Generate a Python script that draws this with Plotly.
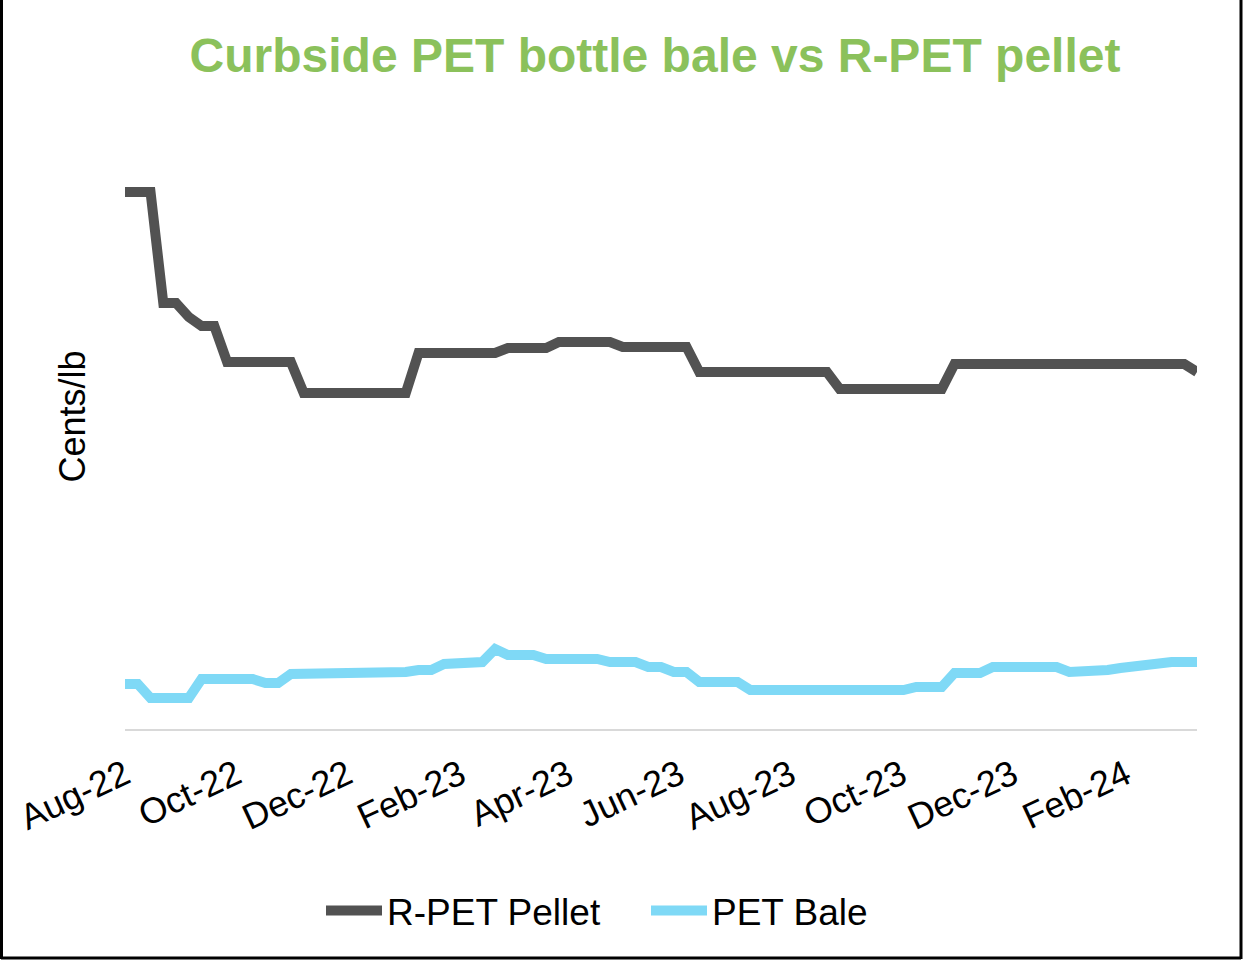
import pandas as pd
import plotly.graph_objects as go

start_date = "2022-08-01"

rpet_pellet = [
    214.8, 214.8, 214.8, 170.4, 170.4, 164.8, 161.2, 161.2,
    146.8, 146.8, 146.8, 146.8, 146.8, 146.8,
    134.4, 134.4, 134.4, 134.4, 134.4, 134.4, 134.4, 134.4, 134.4,
    150.4, 150.4, 150.4, 150.4, 150.4, 150.4, 150.4,
    152.4, 152.4, 152.4, 152.4,
    154.8, 154.8, 154.8, 154.8, 154.8,
    152.8, 152.8, 152.8, 152.8, 152.8, 152.8,
    142.8, 142.8, 142.8, 142.8, 142.8, 142.8, 142.8, 142.8, 142.8, 142.8, 142.8,
    136.0, 136.0, 136.0, 136.0, 136.0, 136.0, 136.0, 136.0, 136.0,
    146.0, 146.0, 146.0, 146.0, 146.0, 146.0, 146.0, 146.0, 146.0, 146.0,
    146.0, 146.0, 146.0, 146.0, 146.0, 146.0, 146.0, 146.0, 146.0,
    142.8,
]

pet_bale = [
    18.0, 18.0, 12.4, 12.4, 12.4, 12.4,
    20.0, 20.0, 20.0, 20.0, 20.0,
    18.4, 18.4, 22.0, 22.0,
    22.8, 22.8, 22.8, 22.8, 22.8, 22.8, 22.8, 22.8,
    23.6, 23.6, 26.0, 26.0, 26.8, 26.8, 32.0,
    29.6, 29.6, 29.6,
    28.0, 28.0, 28.0, 28.0, 28.0,
    26.8, 26.8, 26.8, 24.8, 24.8, 22.8, 22.8,
    18.8, 18.8, 18.8, 18.8,
    15.6, 15.6, 15.6, 15.6, 15.6, 15.6, 15.6, 15.6, 15.6, 15.6, 15.6, 15.6, 15.6,
    16.8, 16.8, 16.8,
    22.4, 22.4, 22.4,
    24.8, 24.8, 24.8, 24.8, 24.8, 24.8,
    22.8, 22.8, 22.8, 23.6, 24.4, 25.2, 25.2, 26.0,
    26.8, 26.8, 26.8,
]

dates = pd.date_range(start_date, periods=len(rpet_pellet), freq="7D")

series_names = ["R-PET Pellet", "PET Bale"]
series_colors = ["#525252", "#7FD9F6"]

fig = go.Figure()
for name, vals, col in zip(series_names, [rpet_pellet, pet_bale], series_colors):
    fig.add_trace(go.Scatter(
        x=dates, y=vals, name=name, mode="lines",
        line=dict(color=col, width=10),
    ))

font_family = "Liberation Sans, Arial, sans-serif"

fig.update_layout(
    width=1244, height=960,
    margin=dict(l=125, r=47, t=104, b=231, pad=0),
    paper_bgcolor="white", plot_bgcolor="white",
    font=dict(family=font_family, color="black", size=36),
    title=dict(
        text="<b>Curbside PET bottle bale vs R-PET pellet</b>",
        font=dict(size=48, color="#8BC15B", family=font_family),
        x=655 / 1244, xanchor="center", xref="container",
        y=1 - 55 / 960, yanchor="middle", yref="container",
    ),
    xaxis=dict(
        range=[dates[0], dates[-1]],
        tick0="2022-08-01", dtick="M2", tickformat="%b-%y",
        tickangle=-25, ticks="", showgrid=False, zeroline=False,
        showline=True, linecolor="#D9D9D9", linewidth=2,
        tickfont=dict(size=36), ticklabelstandoff=9,
    ),
    yaxis=dict(
        range=[0, 250], showticklabels=False, ticks="", showgrid=False,
        zeroline=False, showline=False,
        title=dict(text="Cents/lb", font=dict(size=36), standoff=27),
    ),
    legend=dict(
        orientation="h", xref="container", yref="container",
        x=321 / 1244, xanchor="left", y=1 - 911 / 960, yanchor="middle",
        font=dict(size=37), itemwidth=56, traceorder="normal",
        entrywidth=254, entrywidthmode="pixels",
    ),
    showlegend=True,
    shapes=[
        dict(type="line", xref="paper", yref="paper",
             x0=-124 / 1072, x1=-124 / 1072, y0=-230 / 625, y1=729 / 625,
             line=dict(color="black", width=4)),
        dict(type="line", xref="paper", yref="paper",
             x0=1116 / 1072, x1=1116 / 1072, y0=-230 / 625, y1=729 / 625,
             line=dict(color="black", width=3)),
        dict(type="line", xref="paper", yref="paper",
             x0=-124 / 1072, x1=1116 / 1072, y0=-229 / 625, y1=-229 / 625,
             line=dict(color="black", width=3)),
    ],
)

fig.write_html("out.html", config={"displayModeBar": False},
               post_script="document.body.style.margin='0';")
